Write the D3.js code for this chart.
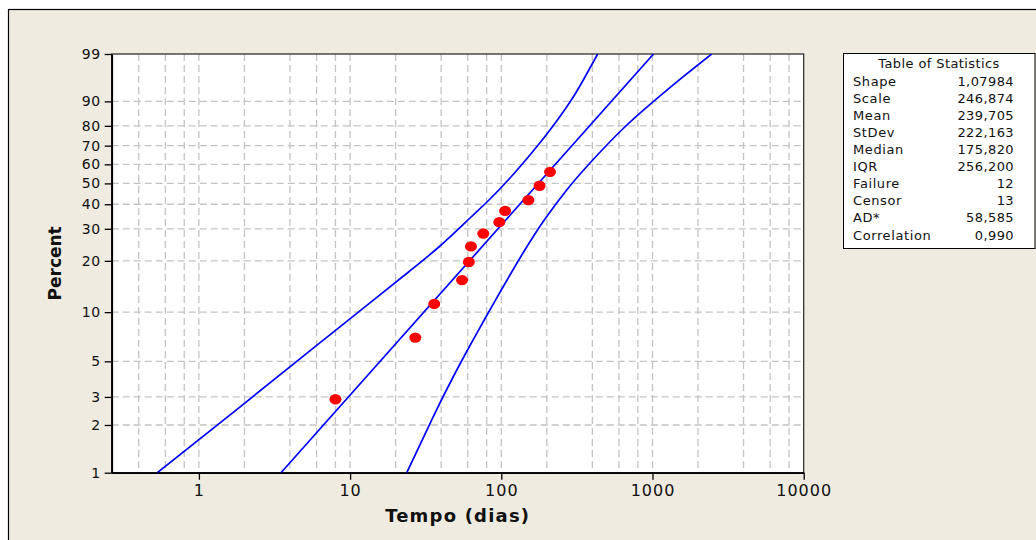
<!DOCTYPE html>
<html>
<head>
<meta charset="utf-8">
<script src="https://cdn.jsdelivr.net/npm/d3@7"></script>
<style>
  body { margin: 0; background: #fff; }
  svg { display: block; }
  text { font-family: "DejaVu Sans", Verdana, sans-serif; }
</style>
</head>
<body>
<svg id="chart" width="1036" height="540"></svg>
<script>
// failure points (time in days, plotted percent)
const failTimes = [8, 27, 36, 55, 61, 63, 76, 97, 106, 151, 179, 210];
const failPct = [2.9, 7.0, 11.2, 15.5, 19.7, 24.1, 28.3, 32.5, 37.1, 41.9, 48.8, 56.0];

// fitted Weibull line, end points
const fitTimes = [3.49, 1016];
const fitPct = [1, 99];

// confidence bands
const upperTimes = [0.531, 1.778, 5.706, 14.6, 24.88, 39.3, 62.1, 84.2, 114.2, 154.7, 209.9, 284.7, 348.5, 434];
const upperPct = [1, 2.5, 6.03, 12.02, 17.54, 24.22, 34.15, 42.4, 52.77, 65.02, 78.01, 89.78, 95.71, 99];
const lowerTimes = [23.7, 35.5, 48.1, 62.1, 80.1, 103.1, 132.9, 162.8, 194.5, 270.7, 386, 625.5, 1012, 1598, 2463];
const lowerPct = [1, 2.26, 4.01, 6.26, 9.54, 14.21, 20.76, 27.29, 33.74, 46.7, 60.71, 78.01, 89.89, 96.33, 99];

// axes
const pctTicks = [1, 2, 3, 5, 10, 20, 30, 40, 50, 60, 70, 80, 90, 99];
const timeTicks = [1, 10, 100, 1000, 10000];
const timeGrid = [0.4, 0.6, 0.8, 1, 2, 4, 6, 8, 10, 20, 40, 60, 80, 100, 200, 400, 600, 800, 1000, 2000, 4000, 6000, 8000];

// table of statistics
const statNames = ["Shape", "Scale", "Mean", "StDev", "Median", "IQR", "Failure", "Censor", "AD*", "Correlation"];
const statValues = ["1,07984", "246,874", "239,705", "222,163", "175,820", "256,200", "12", "13", "58,585", "0,990"];

const svg = d3.select("#chart");
const plot = { left: 111.7, right: 803.7, top: 54, bottom: 472.7 };

const weib = p => Math.log(-Math.log(1 - p / 100));
const xScale = d3.scaleLog().domain([0.265, 10000]).range([plot.left, plot.right]);
const yScale = d3.scaleLinear().domain([weib(1), weib(99)]).range([plot.bottom, plot.top]);

svg.append("rect").attr("width", 1036).attr("height", 540).attr("fill", "#fff");
svg.append("rect")
  .attr("x", 8.5).attr("y", 9.5).attr("width", 1100).attr("height", 600)
  .attr("fill", "#efebe0").attr("stroke", "#000").attr("stroke-width", 1.2);

svg.append("rect")
  .attr("x", plot.left).attr("y", plot.top)
  .attr("width", plot.right - plot.left).attr("height", plot.bottom - plot.top)
  .attr("fill", "#fff");

svg.append("clipPath").attr("id", "plotClip")
  .append("rect")
  .attr("x", plot.left).attr("y", plot.top)
  .attr("width", plot.right - plot.left).attr("height", plot.bottom - plot.top);

// grid
const grid = svg.append("g")
  .attr("stroke", "#c3c3c3").attr("stroke-width", 1.3).attr("stroke-dasharray", "7,4");
grid.selectAll(".vg").data(timeGrid).join("line")
  .attr("x1", d => xScale(d)).attr("x2", d => xScale(d))
  .attr("y1", plot.top).attr("y2", plot.bottom);
grid.selectAll(".hg").data(pctTicks.slice(1, -1)).join("line")
  .attr("x1", plot.left).attr("x2", plot.right)
  .attr("y1", d => yScale(weib(d))).attr("y2", d => yScale(weib(d)));

// frame
svg.append("rect")
  .attr("x", plot.left).attr("y", plot.top)
  .attr("width", plot.right - plot.left).attr("height", plot.bottom - plot.top)
  .attr("fill", "none").attr("stroke", "#222").attr("stroke-width", 1.2);

const yAxis = d3.axisLeft(yScale)
  .tickValues(pctTicks.map(weib))
  .tickFormat((d, i) => pctTicks[i])
  .tickSize(7).tickPadding(4).tickSizeOuter(0);
const gy = svg.append("g").attr("transform", `translate(${plot.left},0)`).call(yAxis);
gy.selectAll("text").attr("font-size", 14).attr("letter-spacing", 0.5).attr("fill", "#111")
  .style("font-family", "DejaVu Sans, sans-serif");

const xAxis = d3.axisBottom(xScale)
  .tickValues(timeTicks)
  .tickFormat(d3.format("d"))
  .tickSize(7).tickPadding(5).tickSizeOuter(0);
const gx = svg.append("g").attr("transform", `translate(0,${plot.bottom})`).call(xAxis);
gx.selectAll("text").attr("font-size", 16).attr("letter-spacing", 1).attr("fill", "#111")
  .style("font-family", "DejaVu Sans, sans-serif");

[gx, gy].forEach(g => {
  g.select(".domain").attr("stroke", "#000").attr("stroke-width", 1.8);
  g.selectAll(".tick line").attr("stroke", "#000").attr("stroke-width", 1.3);
});

// lines
const toPts = (ts, ps) => ts.map((t, i) => ({ t: t, p: ps[i] }));
const line = d3.line()
  .x(d => xScale(d.t))
  .y(d => yScale(weib(d.p)))
  .curve(d3.curveNatural);

const lines = svg.append("g").attr("clip-path", "url(#plotClip)");
[toPts(upperTimes, upperPct), toPts(fitTimes, fitPct), toPts(lowerTimes, lowerPct)].forEach(pts => {
  lines.append("path").datum(pts)
    .attr("d", line)
    .attr("fill", "none").attr("stroke", "#0000ff").attr("stroke-width", 1.7);
});

// points
svg.append("g").selectAll("ellipse").data(toPts(failTimes, failPct)).join("ellipse")
  .attr("cx", d => xScale(d.t)).attr("cy", d => yScale(weib(d.p)))
  .attr("rx", 6).attr("ry", 5.2)
  .attr("fill", "#ff0000");

// axis titles
svg.append("text")
  .attr("x", (plot.left + plot.right) / 2).attr("y", 522)
  .attr("text-anchor", "middle").attr("font-size", 18).attr("font-weight", "bold")
  .attr("letter-spacing", 1.2).attr("fill", "#111")
  .text("Tempo (dias)");
svg.append("text")
  .attr("transform", `translate(61,${(plot.top + plot.bottom) / 2}) rotate(-90)`)
  .attr("text-anchor", "middle").attr("font-size", 17).attr("font-weight", "bold")
  .attr("fill", "#111")
  .text("Percent");

// table of statistics
const tbl = svg.append("g");
tbl.append("rect")
  .attr("x", 843.5).attr("y", 53.5).attr("width", 191.5).attr("height", 195)
  .attr("fill", "#fff").attr("stroke", "#000").attr("stroke-width", 1);
tbl.append("text")
  .attr("x", 939).attr("y", 68).attr("text-anchor", "middle")
  .attr("font-size", 13).attr("letter-spacing", 0.4).attr("fill", "#111")
  .text("Table of Statistics");
tbl.selectAll(".sn").data(statNames).join("text")
  .attr("x", 853).attr("y", (d, i) => 85.6 + i * 17.1)
  .attr("font-size", 13).attr("letter-spacing", 0.6).attr("fill", "#111")
  .text(d => d);
tbl.selectAll(".sv").data(statValues).join("text")
  .attr("x", 1014).attr("y", (d, i) => 85.6 + i * 17.1)
  .attr("text-anchor", "end")
  .attr("font-size", 13).attr("letter-spacing", 0.4).attr("fill", "#111")
  .text(d => d);
</script>
</body>
</html>
